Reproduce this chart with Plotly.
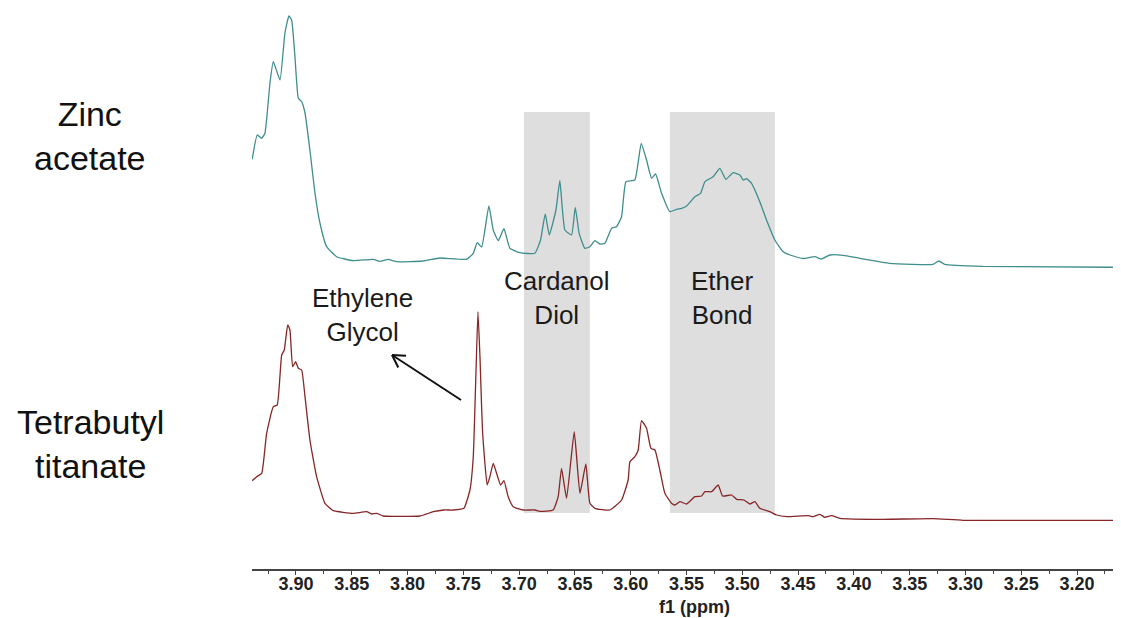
import plotly.graph_objects as go

# ---- data (ppm, intensity above each trace's own baseline) ----
zinc_ppm = [3.9392, 3.9347, 3.9307, 3.9278, 3.9233, 3.9203, 3.9143, 3.9099, 3.9063, 3.9039,
            3.9009, 3.8979, 3.8949, 3.8919, 3.8875, 3.8830, 3.8785, 3.8725, 3.8635, 3.8487,
            3.8307, 3.8247, 3.8173, 3.8098, 3.7862, 3.7710, 3.7471, 3.7411, 3.7376, 3.7336,
            3.7271, 3.7232, 3.7187, 3.7136, 3.7083, 3.6993, 3.6859, 3.6808, 3.6766, 3.6730,
            3.6670, 3.6635, 3.6590, 3.6530, 3.6497, 3.6462, 3.6411, 3.6366, 3.6321, 3.6276,
            3.6231, 3.6171, 3.6127, 3.6082, 3.6043, 3.5963, 3.5906, 3.5858, 3.5813, 3.5777,
            3.5723, 3.5649, 3.5589, 3.5544, 3.5499, 3.5425, 3.5374, 3.5335, 3.5261, 3.5201,
            3.5147, 3.5082, 3.5022, 3.4992, 3.4962, 3.4917, 3.4843, 3.4783, 3.4708, 3.4634,
            3.4544, 3.4455, 3.4350, 3.4290, 3.4215, 3.4096, 3.3947, 3.3678, 3.3290, 3.3239,
            3.3185, 3.2842, 3.1608]
zinc_int = [108.7, 133, 129.7, 134.7, 185, 206.3, 188, 235, 252, 248,
            211.3, 169.7, 166.3, 155, 118, 75, 45, 21.3, 11.3, 7.3,
            8.7, 6.7, 8.7, 6.3, 7, 10, 8.7, 14.7, 25.3, 21,
            62, 38, 27.3, 39.3, 19.7, 15.3, 14.7, 28, 54, 33,
            58, 87.3, 38, 33, 60.7, 34.7, 19.7, 21.3, 27.3, 24,
            24.7, 39.7, 41.3, 51.3, 86.3, 88, 124.7, 108, 89.7, 94,
            74.7, 56.3, 58.7, 59.7, 62, 71.3, 74.7, 86.3, 91.3, 99.7,
            88.7, 95.3, 93, 88, 89.3, 84.7, 66.3, 48, 28, 16.3,
            12, 9.5, 11.3, 9, 13, 12.7, 9.7, 4.7, 3.7, 7,
            3.7, 1.7, 0.7]

titanate_ppm = [3.9392, 3.9352, 3.9307, 3.9263, 3.9203, 3.9168, 3.9128, 3.9105, 3.9074, 3.9054,
                3.9030, 3.9003, 3.8979, 3.8949, 3.8919, 3.8875, 3.8815, 3.8740, 3.8666, 3.8487,
                3.8367, 3.8322, 3.8277, 3.8218, 3.7889, 3.7770, 3.7674, 3.7591, 3.7495, 3.7441,
                3.7411, 3.7387, 3.7369, 3.7351, 3.7327, 3.7286, 3.7262, 3.7232, 3.7202, 3.7166,
                3.7136, 3.7098, 3.7053, 3.6963, 3.6859, 3.6814, 3.6695, 3.6650, 3.6620, 3.6575,
                3.6506, 3.6455, 3.6402, 3.6366, 3.6321, 3.6187, 3.6082, 3.6023, 3.6007, 3.5963,
                3.5933, 3.5903, 3.5858, 3.5819, 3.5783, 3.5739, 3.5694, 3.5634, 3.5604, 3.5559,
                3.5499, 3.5425, 3.5365, 3.5335, 3.5275, 3.5216, 3.5177, 3.5096, 3.5051, 3.4986,
                3.4932, 3.4887, 3.4843, 3.4753, 3.4693, 3.4603, 3.4409, 3.4365, 3.4305, 3.4260,
                3.4200, 3.4126, 3.3737, 3.3290, 3.3021, 3.1608]
titanate_int = [40.3, 44.3, 47.7, 87.7, 114.3, 116, 166, 171, 196, 191,
                154.3, 159.3, 152.7, 151, 124.3, 81, 44.3, 17.7, 10.3, 7.7,
                9.3, 7, 7.7, 5, 5, 9.3, 11, 11, 12.7, 31,
                64.3, 147.7, 209.3, 164.3, 87.7, 36, 44.3, 57.7, 47.7, 36,
                40.3, 24.3, 14.3, 11, 11, 9.7, 11, 24.3, 52.7, 22.7,
                89.3, 27.7, 57, 17.7, 12.7, 11, 21, 41, 59.3, 64.3,
                71, 100.3, 92.7, 72.7, 71, 51, 27.7, 17.7, 16, 19.3,
                17, 24.3, 25, 29.3, 29.3, 36, 25, 26, 21.7, 21,
                17, 19.3, 12.7, 9.3, 6, 4.3, 5.3, 4.3, 6.7, 3.7,
                5.3, 2.7, 1.7, 2.3, 0.7, 0.7]

region_labels = ["Cardanol<br>Diol", "Ether<br>Bond"]
region_start = [3.6957, 3.5649]
region_end = [3.6366, 3.4708]

x_ticks = [3.90, 3.85, 3.80, 3.75, 3.70, 3.65, 3.60, 3.55, 3.50, 3.45, 3.40, 3.35, 3.30, 3.25, 3.20]
x_title = "f1 (ppm)"

# ---- layout constants (page pixel geometry; page body has an 8px margin) ----
BODY = 8
PAGE_W, PAGE_H = 1121, 618
W, H = PAGE_W - BODY, PAGE_H - BODY
AXIS_X0, AXIS_Y = 252, 569            # page pixels of plot-area left and x-axis line
ML, MR, MT = AXIS_X0 - BODY, 0, 0
PH = AXIS_Y - BODY                    # plot height in figure pixels
MB = H - PH
PW = W - ML - MR
ZINC_BASE, TITAN_BASE = 268, 521      # page rows of each baseline
FONT = "Liberation Sans, Arial, sans-serif"


def px(x):   # page x -> paper fraction
    return (x - AXIS_X0) / PW


def py(y):   # page y -> paper fraction
    return (AXIS_Y - y) / PH


fig = go.Figure()
fig.add_trace(go.Scatter(x=zinc_ppm, y=[v + (AXIS_Y - ZINC_BASE) for v in zinc_int], mode="lines",
                         line=dict(color="#3f8d8d", width=1.3, shape="spline", smoothing=0.4),
                         showlegend=False, hoverinfo="skip"))
fig.add_trace(go.Scatter(x=titanate_ppm, y=[v + (AXIS_Y - TITAN_BASE) for v in titanate_int], mode="lines",
                         line=dict(color="#862626", width=1.3, shape="spline", smoothing=0.4),
                         showlegend=False, hoverinfo="skip"))

shapes = []
annotations = []
for lab, a, b in zip(region_labels, region_start, region_end):
    shapes.append(dict(type="rect", xref="x", yref="paper", x0=a, x1=b, y0=py(513), y1=py(112),
                       fillcolor="#dedede", line=dict(width=0), layer="below"))
    annotations.append(dict(x=(a + b) / 2, y=py(298), xref="x", yref="paper", text=lab,
                            xanchor="center", yanchor="middle", showarrow=False,
                            font=dict(family=FONT, size=26, color="#1a1a1a"), align="center"))

annotations.append(dict(x=px(362), y=py(315), xref="paper", yref="paper", text="Ethylene<br>Glycol",
                        xanchor="center", yanchor="middle", showarrow=False,
                        font=dict(family=FONT, size=26, color="#1a1a1a"), align="center"))
annotations.append(dict(x=px(90), y=py(136), xref="paper", yref="paper", text="Zinc<br>acetate",
                        xanchor="center", yanchor="middle", showarrow=False,
                        font=dict(family=FONT, size=34, color="#111111"), align="center"))
annotations.append(dict(x=px(90), y=py(444), xref="paper", yref="paper", text="Tetrabutyl<br>titanate",
                        xanchor="center", yanchor="middle", showarrow=False,
                        font=dict(family=FONT, size=34, color="#111111"), align="center"))
# axis title placed as annotation for exact position
annotations.append(dict(x=px(694), y=py(607), xref="paper", yref="paper", text=x_title,
                        xanchor="center", yanchor="middle", showarrow=False,
                        font=dict(family=FONT, size=18, color="#222", weight="bold")))

# open arrow (shaft + two wings), page pixels
arrow = [((461, 400), (392, 355)), ((392, 355), (398.3, 367.5)), ((392, 355), (406, 355.8))]
for (x0, y0), (x1, y1) in arrow:
    shapes.append(dict(type="line", xref="paper", yref="paper", x0=px(x0), y0=py(y0), x1=px(x1), y1=py(y1),
                       line=dict(color="#111111", width=2)))

fig.update_layout(
    width=W, height=H, margin=dict(l=ML, r=MR, t=MT, b=MB, pad=0),
    paper_bgcolor="white", plot_bgcolor="white",
    shapes=shapes, annotations=annotations,
    xaxis=dict(range=[3.9394, 3.1606], tickvals=x_ticks, tickformat=".2f",
               ticks="outside", ticklen=4, tickwidth=1, tickcolor="#444",
               ticklabelstandoff=-6,
               minor=dict(dtick=0.025, tick0=3.9, ticks="outside", ticklen=3, tickcolor="#444"),
               showline=True, linecolor="#444", linewidth=1.5, showgrid=False, zeroline=False,
               tickfont=dict(family=FONT, size=18, color="#222", weight="bold")),
    yaxis=dict(range=[0, PH], visible=False, showgrid=False, zeroline=False),
)

fig.write_html("out.html")
